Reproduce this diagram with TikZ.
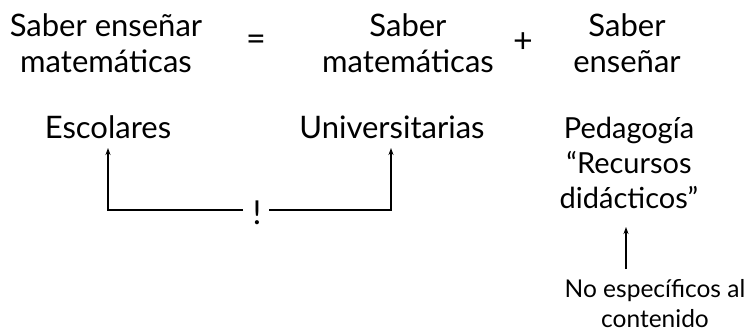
\documentclass[tikz,border=0pt]{standalone}
\usepackage{fontspec}
\setmainfont{Lato}
\usetikzlibrary{arrows.meta}
\begin{document}
\begin{tikzpicture}[x=1pt,y=-1pt,
  txt/.style={align=center, inner sep=0pt, anchor=base},
  toprow/.style={txt, font=\fontsize{31}{36}\selectfont},
  midrow/.style={txt, font=\fontsize{31}{35}\selectfont},
  pedrow/.style={txt, font=\fontsize{29}{35}\selectfont},
  lowrow/.style={txt, font=\fontsize{24.5}{30}\selectfont},
  sym/.style={inner sep=0pt, anchor=center, font=\fontsize{34}{34}\selectfont},
  arr/.style={-{Stealth[length=7pt,width=5pt]}, line width=1.2pt}]
\useasboundingbox (0,0) rectangle (745,332);
% top row
\node[toprow] (t1) at (106,72) {Saber enseñar\\matemáticas};
\node[sym] (eq) at (256,43) {=};
\node[toprow] (t2) at (408,72) {Saber\\matemáticas};
\node[sym] (pl) at (523,43) {+};
\node[toprow] (t3) at (627,72) {Saber\\enseñar};
% second row
\node[midrow] (esc) at (108,138) {Escolares};
\node[midrow] (uni) at (392,138) {Universitarias};
\node[pedrow] (ped) at (629,208) {Pedagogía\\“Recursos\\didácticos”};
\node[txt, font=\fontsize{33}{33}\selectfont] (ex) at (257,224) {!};
\node[lowrow] (noe) at (655,327) {No específicos al\\contenido};
\coordinate (a1) at (108,148);
\coordinate (a2) at (391,148);
\coordinate (b1) at (108,210);
\coordinate (b2) at (391,210);
\coordinate (e1) at (243,210);
\coordinate (e2) at (269,210);
\draw[arr] (e1) -- (b1) -- (a1);
\draw[arr] (e2) -- (b2) -- (a2);
\coordinate (r1) at (626,269);
\coordinate (r2) at (626,227);
\draw[arr] (r1) -- (r2);
\end{tikzpicture}
\end{document}
